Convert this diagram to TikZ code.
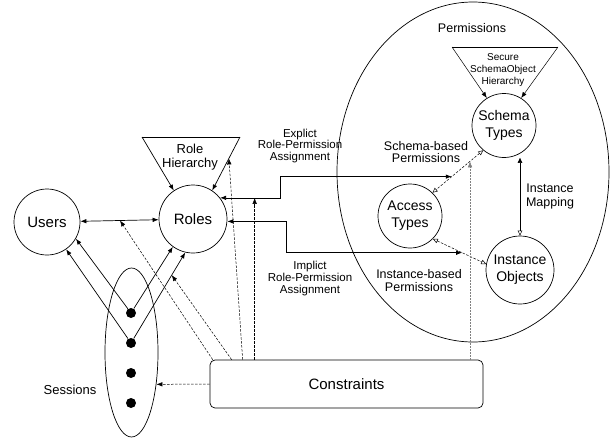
\documentclass[tikz,border=0pt]{standalone}
\usepackage{fontspec}
\setmainfont{Liberation Sans}
\usetikzlibrary{shapes.geometric,calc,arrows.meta}

\begin{document}
\begin{tikzpicture}[x=1pt,y=-1pt,line width=0.7pt,>={Latex[length=6pt,width=4.5pt]},
	entity/.style={draw,circle,inner sep=0pt,align=center,font=\fontsize{14}{17}\selectfont},
	note/.style={align=center,font=\fontsize{11.5}{11.5}\selectfont},
	cons/.style={->,line width=0.5pt,dash pattern=on 2.5pt off 1.5pt},
	perm/.style={{Triangle[open,length=5pt,width=4.5pt]}-{Triangle[open,length=5pt,width=4.5pt]},line width=0.5pt}]
	\useasboundingbox (0,0) rectangle (611,439);
	\node[entity,minimum size=66pt,font=\fontsize{15}{17}\selectfont] (Users) at (47,222) {Users};
	\node[entity,minimum size=68pt,font=\fontsize{15}{17}\selectfont] (Roles) at (193,219) {Roles};
	\node[entity,minimum size=64pt] (SchemaT) at (504,125.5) {Schema\\Types};
	\node[entity,minimum size=64pt] (AccessT) at (410,216) {Access\\Types};
	\node[entity,minimum size=68pt] (InstO) at (520,270) {Instance\\Objects};
	\node[draw,ellipse,inner sep=0pt,minimum width=53pt,minimum height=169pt] (Sess) at (131.5,352.5) {};
	\node[font=\fontsize{13}{15}\selectfont] (SessLbl) at (70,390) {Sessions};
	\node[draw,ellipse,inner sep=0pt,minimum width=272pt,minimum height=340pt] (Perms) at (473,172) {};
	\node[font=\fontsize{12.5}{14}\selectfont] (PermLbl) at (472,28) {Permissions};
	\node[draw,rounded corners=5pt,minimum width=273pt,minimum height=48pt,font=\fontsize{15}{17}\selectfont] (Cons) at (346.5,384) {Constraints};
	\foreach \i/\y in {1/313,2/343,3/373,4/403}
		\node[circle,fill,inner sep=0pt,minimum size=10pt] (d\i) at (131,\y) {};
	% role hierarchy
	\coordinate (rhL) at (142,137);
	\coordinate (rhR) at (240,137);
	\draw (rhL) -- (rhR);
	\draw[->] (rhL) -- (Roles.124);
	\draw[->] (rhR) -- (Roles.56);
	\node[align=center,font=\fontsize{13}{14}\selectfont] (RHLbl) at (190,157) {Role\\Hierarchy};
	% schema object hierarchy
	\coordinate (shL) at (452,47);
	\coordinate (shR) at (558,47);
	\draw[line width=0.5pt] (shL) -- (shR);
	\draw[->,line width=0.5pt] (shL) -- (SchemaT.122);
	\draw[->,line width=0.5pt] (shR) -- (SchemaT.58);
	\node[align=center,font=\fontsize{10}{12}\selectfont] (SHLbl) at (503,70) {Secure\\SchemaObject\\Hierarchy};
	% users, sessions, roles
	\draw[<->] (Users) -- (Roles);
	\draw[->] (d1) -- (Users.-30);
	\draw[->] (d2) -- (Users.-55);
	\draw[->] (d1) -- (Roles.-126);
	\draw[->] (d2) -- (Roles.-103);
	% role-permission assignment
	\coordinate (exTip) at ($(SchemaT.-130)!0.62!(AccessT.46)$);
	\coordinate (imTip) at ($(AccessT.-45)!0.55!(InstO.170)$);
	\coordinate (sbTip) at ($(SchemaT.-130)!0.26!(AccessT.46)$);
	\draw[<->] (Roles.38) -- ++(60,0) |- (exTip);
	\draw[<->] (Roles.-4) -- ++(59,0) |- (imTip);
	\node[note] (ExLbl) at (300,146) {Explict\\Role-Permission\\Assignment};
	\node[note,font=\fontsize{11.5}{12}\selectfont] (ImLbl) at (310,279) {Implict\\Role-Permission\\Assignment};
	% permissions
	\draw[perm,dash pattern=on 2.5pt off 1.5pt] (SchemaT.-130) -- (AccessT.46);
	\draw[perm,dash pattern=on 2.5pt off 1.5pt] (AccessT.-45) -- (InstO.170);
	\draw[{Triangle[open,length=5pt,width=4.5pt]}-{Triangle[length=5pt,width=4.5pt]},line width=0.5pt] (InstO.north) -- (SchemaT.south -| InstO.north);
	\node[note,font=\fontsize{12.5}{12}\selectfont] (SbLbl) at (426,152) {Schema-based\\Permissions};
	\node[note,font=\fontsize{12.5}{13}\selectfont] (IbLbl) at (419,281) {Instance-based\\Permissions};
	\node[note,font=\fontsize{12.5}{14}\selectfont] (MapLbl) at (550,196) {Instance\\Mapping};
	% constraints
	\coordinate (c1) at ([xshift=3pt]Cons.north west);
	\coordinate (c2) at ([xshift=22pt]Cons.north west);
	\coordinate (c3) at ([xshift=33pt]Cons.north west);
	\coordinate (c4) at ([xshift=45pt]Cons.north west);
	\coordinate (ur) at ($(Users)!0.5!(Roles)$);
	\coordinate (sr) at ($(d2)!0.75!(Roles.-103)$);
	\coordinate (rh) at ($(rhR)!0.4!(Roles.56)$);
	\draw[cons] (c1) -- (ur);
	\draw[cons] (c2) -- (sr);
	\draw[cons] (c3) -- (rh);
	\draw[cons] (c4) -- (c4 |- Roles.38);
	\draw[cons] (Cons.west) -- (Sess.-52);
	\draw[->,line width=0.5pt,densely dotted,gray] (Cons.north -| sbTip) -- (sbTip);
\end{tikzpicture}
\end{document}
